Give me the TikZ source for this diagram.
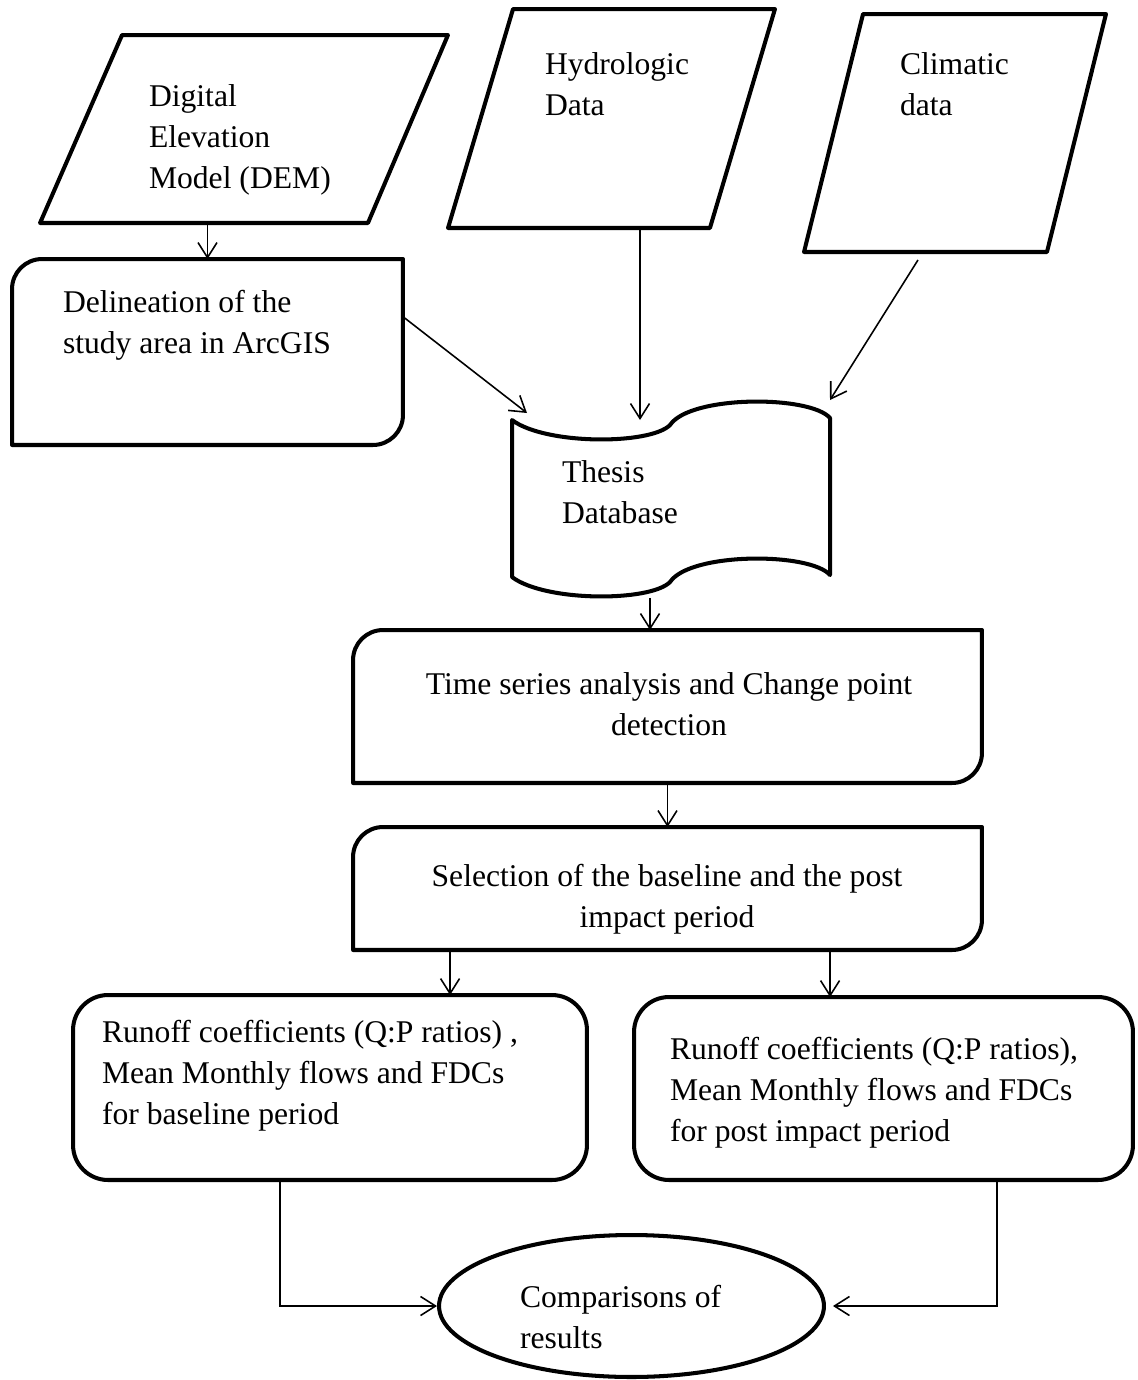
\documentclass[tikz,border=0pt]{standalone}
\usepackage{fontspec}
\setmainfont{Liberation Serif}
\usetikzlibrary{arrows.meta,shapes.geometric,calc}
\begin{document}
\begin{tikzpicture}[x=0.02cm,y=-0.02cm,
  border/.style={line width=2.3pt, line join=round},
  conn/.style={line width=0.9pt, -{Straight Barb[length=0.3cm,width=0.38cm]}},
  area/.style={draw=none, inner sep=0pt, outer sep=0pt, rectangle},
  txt/.style={inner sep=0pt, outer sep=0pt, anchor=north west, align=left, font=\fontsize{18}{23.3}\selectfont},
  ctxt/.style={txt, anchor=north, align=center}]
\fill[white] (0,0) rectangle (1137,1380);
\useasboundingbox (0,0) rectangle (1137,1380);

% ---------- shape areas ----------
\node[area, minimum width=8.16cm, minimum height=3.76cm] (dem) at (244,129) {};
\node[area, minimum width=6.54cm, minimum height=4.38cm] (hyd) at (611.5,118.5) {};
\node[area, minimum width=6.04cm, minimum height=4.76cm] (clim) at (955,133) {};
\node[area, minimum width=7.82cm, minimum height=3.72cm] (del) at (207.5,352) {};
\node[area, minimum width=6.36cm, minimum height=4cm] (th) at (671,500) {};
\node[area, minimum width=12.58cm, minimum height=3.06cm] (time) at (667.5,706.5) {};
\node[area, minimum width=12.58cm, minimum height=2.46cm] (sel) at (667.5,888.5) {};
\node[area, minimum width=10.28cm, minimum height=3.7cm] (rl) at (330,1087.5) {};
\node[area, minimum width=9.98cm, minimum height=3.66cm] (rr) at (883.5,1088.5) {};
\node[draw, border, ellipse, inner sep=0pt, minimum width=7.7cm, minimum height=2.84cm] (ell) at (631.5,1306) {};

% ---------- outlines ----------
% parallelograms
\draw[border] ($(dem.north west)+(82,0)$) -- (dem.north east) -- ($(dem.south east)+(-80,0)$) -- (dem.south west) -- cycle;
\draw[border] ($(hyd.north west)+(65,0)$) -- (hyd.north east) -- ($(hyd.south east)+(-65,0)$) -- (hyd.south west) -- cycle;
\draw[border] ($(clim.north west)+(59,0)$) -- (clim.north east) -- ($(clim.south east)+(-59,0)$) -- (clim.south west) -- cycle;

% boxes rounded at top-left and bottom-right
\draw[border] ($(del.north west)+(30,0)$) -- (del.north east) -- ($(del.south east)+(0,-30)$)
  arc[start angle=0,end angle=-90,radius=0.6cm] -- (del.south west) -- ($(del.north west)+(0,30)$)
  arc[start angle=180,end angle=90,radius=0.6cm] -- cycle;
\draw[border] ($(time.north west)+(30,0)$) -- (time.north east) -- ($(time.south east)+(0,-30)$)
  arc[start angle=0,end angle=-90,radius=0.6cm] -- (time.south west) -- ($(time.north west)+(0,30)$)
  arc[start angle=180,end angle=90,radius=0.6cm] -- cycle;
\draw[border] ($(sel.north west)+(30,0)$) -- (sel.north east) -- ($(sel.south east)+(0,-30)$)
  arc[start angle=0,end angle=-90,radius=0.6cm] -- (sel.south west) -- ($(sel.north west)+(0,30)$)
  arc[start angle=180,end angle=90,radius=0.6cm] -- cycle;

% fully rounded boxes
\draw[border, rounded corners=0.7cm] (rl.north west) rectangle (rl.south east);
\draw[border, rounded corners=0.7cm] (rr.north west) rectangle (rr.south east);

% punched tape (Thesis Database)
\begin{scope}[shift={(th.north west)}]
\draw[border] (0,20) .. controls (33,45) and (138,45) .. (158,25)
  .. controls (178,-5) and (298,-5) .. (318,18) -- (318,175)
  .. controls (298,152) and (178,152) .. (158,182)
  .. controls (138,202) and (33,202) .. (0,177) -- cycle;
\end{scope}

% ---------- texts ----------
\node[txt] (demT) at (149,78.3) {\strut Digital\\\strut Elevation\\\strut Model (DEM)};
\node[txt] (hydT) at (545,46.3) {\strut Hydrologic\\\strut Data};
\node[txt] (climT) at (900,46.3) {\strut Climatic\\\strut data};
\node[txt] (delT) at (63,284.3) {\strut Delineation of the\\\strut study area in ArcGIS};
\node[txt] (thT) at (562,454.3) {\strut Thesis\\\strut Database};
\node[ctxt] (timeT) at (669,666.3) {\strut Time series analysis and Change point\\\strut detection};
\node[ctxt] (selT) at (667,858.3) {\strut Selection of the baseline and the post\\\strut impact period};
\node[txt] (rlT) at (102,1014.3) {\strut Runoff coefficients (Q:P ratios) ,\\\strut Mean Monthly flows and FDCs\\\strut for baseline period};
\node[txt] (rrT) at (670,1031.3) {\strut Runoff coefficients (Q:P ratios),\\\strut Mean Monthly flows and FDCs\\\strut for post impact period};
\node[txt] (ellT) at (520,1279.3) {\strut Comparisons of\\\strut results};

% ---------- connectors ----------
\coordinate (thL) at (527,413);
\coordinate (thH) at (640,420);
\coordinate (thC) at (830,400);
\coordinate (cS) at ($(clim.south)+(-37,8)$);
\coordinate (thB) at ($(th.south)+(-21,-2)$);
\coordinate (sl) at ($(sel.south west)+(97,0)$);
\coordinate (sr) at ($(sel.south west)+(477,0)$);
\coordinate (rlo) at ($(rl.south west)+(207,0)$);
\coordinate (rro) at ($(rr.south west)+(363,0)$);

\draw[conn] (del.north |- dem.south) -- (del.north);
\draw[conn] ($(del.north east)!0.31!(del.south east)$) -- (thL);
\draw[conn] (thH |- hyd.south) -- (thH);
\draw[conn] (cS) -- (thC);
\draw[conn] (thB) -- (thB |- time.north);
\draw[conn] (time.south) -- (time.south |- sel.north);
\draw[conn] (sl) -- (sl |- rl.north);
\draw[conn] (sr) -- (sr |- rr.north);
\draw[conn] (rlo) |- (ell.west);
\draw[conn, shorten >=0.14cm] (rro) |- (ell.east);
\end{tikzpicture}
\end{document}
